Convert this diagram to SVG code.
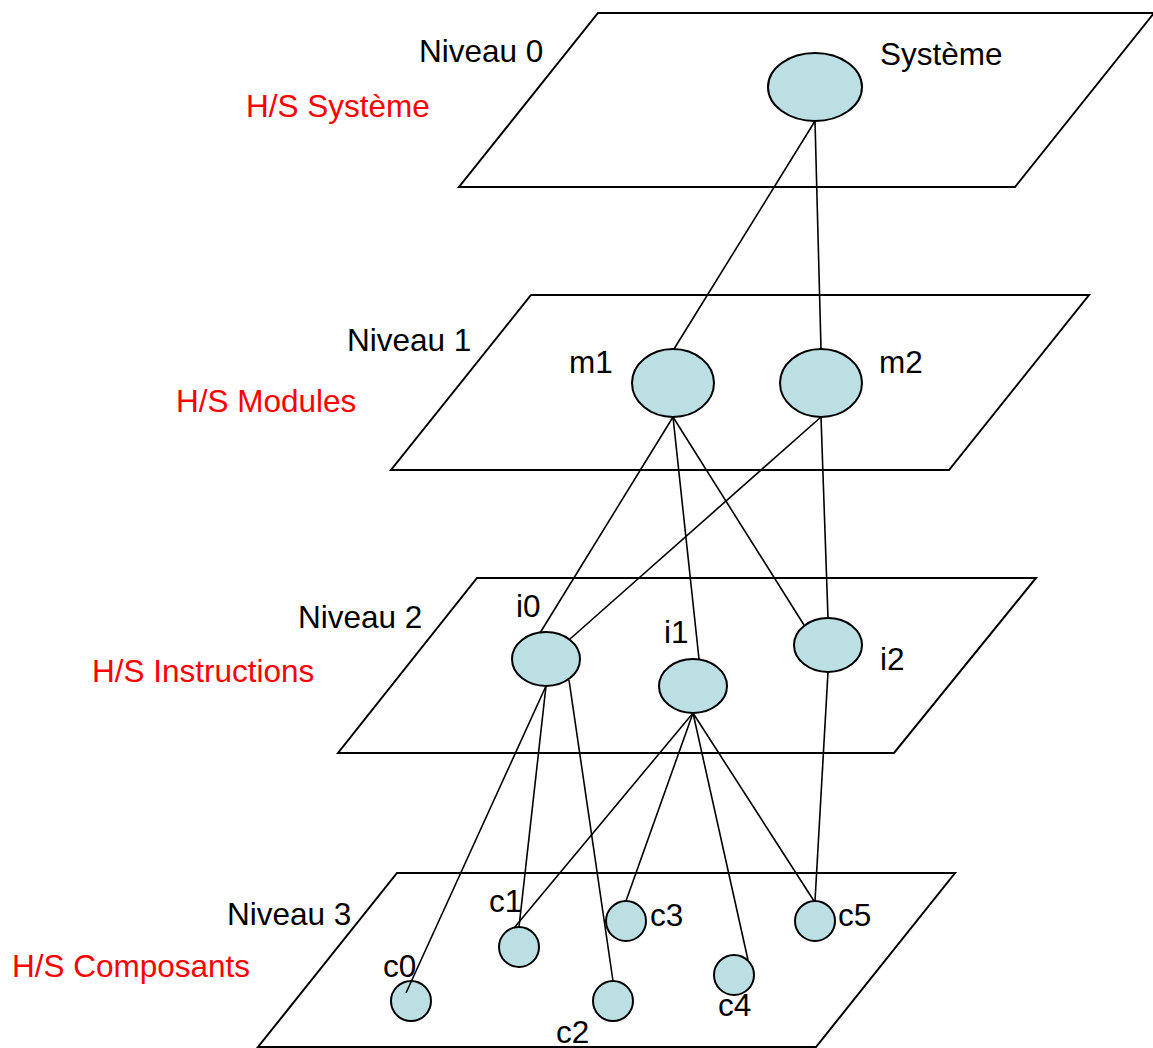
<svg xmlns="http://www.w3.org/2000/svg" width="1153" height="1048" viewBox="0 0 1153 1048">
  <style>
    .plane { fill: none; stroke: #000; stroke-width: 2; }
    .node { fill: #bbdfe2; stroke: #000; stroke-width: 2; }
    .edge { stroke: #000; stroke-width: 1.6; fill: none; }
    text { font-family: "Liberation Sans", Arial, sans-serif; font-size: 31.5px; fill: #000; }
    .level { fill: #ff0000; }
  </style>
  <rect width="1153" height="1048" fill="#fff"/>

  <!-- level planes -->
  <g id="planes">
    <polygon id="plane0" class="plane" points="598,13 1154,13 1015,187 459,187"/>
    <polygon id="plane1" class="plane" points="531,295 1089,295 949,470 391,470"/>
    <polygon id="plane2" class="plane" points="477,578 1036,578 894,753 338,753"/>
    <polygon id="plane3" class="plane" points="397,873 955,873 816,1047 258,1047"/>
  </g>

  <!-- level titles -->
  <g id="titles">
    <text x="419" y="62">Niveau 0</text>
    <text class="level" x="246" y="117">H/S Système</text>
    <text x="347" y="351">Niveau 1</text>
    <text class="level" x="176" y="412">H/S Modules</text>
    <text x="298" y="628">Niveau 2</text>
    <text class="level" x="92" y="682">H/S Instructions</text>
    <text x="227" y="925">Niveau 3</text>
    <text class="level" x="12" y="977">H/S Composants</text>
  </g>

  <!-- nodes -->
  <g id="systeme"><ellipse class="node" cx="815" cy="87" rx="47" ry="34"/><text x="880" y="65">Système</text></g>
  <g id="m1"><ellipse class="node" cx="673" cy="383" rx="41" ry="34"/><text x="569" y="373">m1</text></g>
  <g id="m2"><ellipse class="node" cx="821" cy="383" rx="41" ry="34"/><text x="879" y="373">m2</text></g>
  <g id="i0"><ellipse class="node" cx="546" cy="659" rx="34" ry="27"/><text x="516" y="617">i0</text></g>
  <g id="i1"><ellipse class="node" cx="693" cy="686" rx="34" ry="27"/><text x="664" y="643">i1</text></g>
  <g id="i2"><ellipse class="node" cx="828" cy="645" rx="34" ry="27"/><text x="880" y="670">i2</text></g>
  <g id="c0"><ellipse class="node" cx="411" cy="1001" rx="20" ry="20"/><text x="383" y="977">c0</text></g>
  <g id="c1"><ellipse class="node" cx="519" cy="947" rx="20" ry="20"/><text x="489" y="912">c1</text></g>
  <g id="c2"><ellipse class="node" cx="613" cy="1001" rx="20" ry="20"/><text x="556" y="1043">c2</text></g>
  <g id="c3"><ellipse class="node" cx="626" cy="921" rx="20" ry="20"/><text x="650" y="926">c3</text></g>
  <g id="c4"><ellipse class="node" cx="734" cy="975" rx="20" ry="20"/><text x="718" y="1016">c4</text></g>
  <g id="c5"><ellipse class="node" cx="815" cy="921" rx="20" ry="20"/><text x="838" y="926">c5</text></g>

  <!-- connectors -->
  <g id="connectors">
    <line class="edge" x1="815" y1="121" x2="674" y2="349"/>
    <line class="edge" x1="815" y1="121" x2="821" y2="349"/>
    <line class="edge" x1="673" y1="417" x2="540" y2="633"/>
    <line class="edge" x1="673" y1="417" x2="699" y2="659"/>
    <line class="edge" x1="673" y1="417" x2="804" y2="625"/>
    <line class="edge" x1="821" y1="417" x2="570" y2="639"/>
    <line class="edge" x1="821" y1="417" x2="828" y2="618"/>
    <line class="edge" x1="546" y1="686" x2="406" y2="993"/>
    <line class="edge" x1="546" y1="686" x2="519" y2="927"/>
    <line class="edge" x1="569" y1="680" x2="613" y2="981"/>
    <line class="edge" x1="693" y1="713" x2="514" y2="928"/>
    <line class="edge" x1="693" y1="713" x2="626" y2="901"/>
    <line class="edge" x1="693" y1="713" x2="748" y2="960"/>
    <line class="edge" x1="693" y1="713" x2="814" y2="901"/>
    <line class="edge" x1="828" y1="672" x2="815" y2="901"/>
  </g>
</svg>
